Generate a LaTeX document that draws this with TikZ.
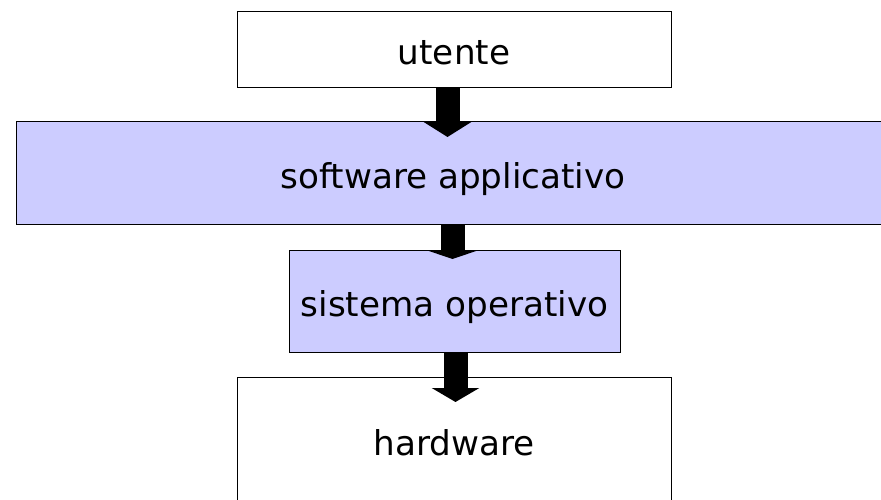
\documentclass[tikz,border=0pt]{standalone}
\usepackage{fontspec}
\setmainfont{DejaVu Sans}
\usetikzlibrary{arrows.meta}
\definecolor{layerfill}{RGB}{204,204,255}
\tikzset{
  layer/.style={draw=black, line width=1pt, inner sep=0pt, outer sep=0pt,
    anchor=north west, text height=30pt, text depth=0pt,
    font=\fontsize{34.2pt}{40pt}\selectfont},
  whitelayer/.style={layer, fill=white},
  bluelayer/.style={layer, fill=layerfill},
  bigarrow/.style={draw=black, line width=24pt,
    -{Triangle[width=47pt,length=#1]}},
}
\begin{document}
\begin{tikzpicture}[x=1pt,y=1pt]
  \useasboundingbox (0,0) rectangle (881,-500);
  \clip (0,0) rectangle (881,-500);
  \fill[white] (0,0) rectangle (881,-500);

  % the four layers, top to bottom
  \node[whitelayer, minimum width=434pt, minimum height=76pt] (user) at (237,-12) {utente};
  \node[bluelayer, minimum width=874pt, minimum height=102pt] (apps) at (16,-122) {software applicativo};
  \node[bluelayer, minimum width=331pt, minimum height=102pt] (os) at (289,-250) {sistema operativo};
  \node[whitelayer, minimum width=434pt, minimum height=126pt] (hw) at (237,-377) {hardware};

  % block arrows between the layers
  \draw[bigarrow=15pt, shorten >=-15pt]
    ([xshift=-6.5pt]user.south) -- ([xshift=-6.5pt]user.south |- apps.north);
  \draw[bigarrow=8pt, shorten >=-9pt]
    ([xshift=-1.5pt]user.south |- apps.south) -- ([xshift=-1.5pt]user.south |- os.north);
  \draw[bigarrow=14pt, shorten >=-25pt]
    ([xshift=1.5pt]user.south |- os.south) -- ([xshift=1.5pt]user.south |- hw.north);
\end{tikzpicture}
\end{document}
